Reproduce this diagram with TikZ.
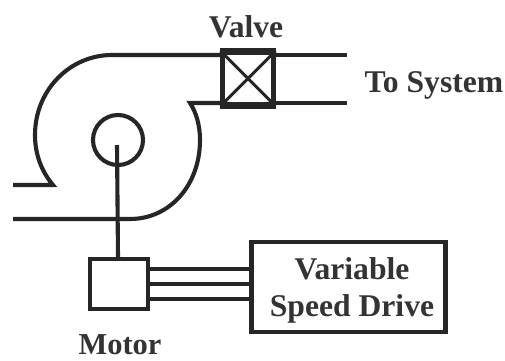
\documentclass[tikz,border=0pt]{standalone}
\usepackage{fontspec}
\setmainfont{Liberation Serif}
\usetikzlibrary{positioning, calc}
\begin{document}
\begin{tikzpicture}[
    x=0.03cm, y=-0.03cm,
    pipe/.style={line width=3.5pt, black!85, line join=miter},
    block/.style={rectangle, draw=black!85, line width=3.5pt, inner sep=0pt, fill=none},
    lbl/.style={font=\fontsize{27}{32}\selectfont\bfseries, text=black!80, align=center, inner sep=0pt},
]
\useasboundingbox (0,0) rectangle (505,360);

\node[block, minimum width=1.53cm, minimum height=1.53cm] (VALVE) at (248,78.5) {};
\node[block, minimum width=1.75cm, minimum height=1.5cm] (MOTOR) at (119,284) {};
\node[block, minimum width=5.82cm, minimum height=2.7cm] (VSD) at (348.5,287) {};
\node[circle, draw=black!85, line width=3.5pt, minimum size=1.5cm, inner sep=0pt] (HUB) at (118,140) {};

\node[lbl] (VL) at (246,27) {Valve};
\node[lbl] (TS) at (434,85) {To System};
\node[lbl] at (352,290.5) (VT) {Variable\\Speed Drive};
\node[lbl, font=\fontsize{26}{32}\selectfont\bfseries] (ML) at (120,345) {Motor};

\coordinate (TOPEND) at (347,55);
\coordinate (LOWEND) at (347,103);

% fan casing
\draw[pipe] (13,185) -- (53,185) .. controls (42,172) and (35,155) .. (35,135)
    .. controls (35,90) and (70,55) .. (112,55) -- (VALVE.north west |- TOPEND);
\draw[pipe] (13,219) -- (130,219) .. controls (170,219) and (200,185) .. (200,140)
    .. controls (200,125) and (196,112) .. (190,103) -- (VALVE.west |- LOWEND);

% outlet
\draw[pipe] (VALVE.east |- TOPEND) -- (TOPEND);
\draw[pipe] (VALVE.east |- LOWEND) -- (LOWEND);
\draw[line width=5pt, black!85] (VALVE.north west) -- (VALVE.north east);
\draw[line width=5pt, black!85] (VALVE.south west) -- (VALVE.south east);
\draw[line width=2.6pt, black!85] (VALVE.north west) -- (VALVE.south east);
\draw[line width=2.6pt, black!85] (VALVE.south west) -- (VALVE.north east);

% shaft and wires
\draw[pipe] (HUB.center) ++(-1,5) -- (HUB.center |- MOTOR.north);
\foreach \i in {-15,0,15}
    \draw[line width=2.8pt, black!85] ([yshift=\i*-0.03cm]MOTOR.east) -- ([yshift=\i*-0.03cm]MOTOR.east -| VSD.west);
\end{tikzpicture}
\end{document}
